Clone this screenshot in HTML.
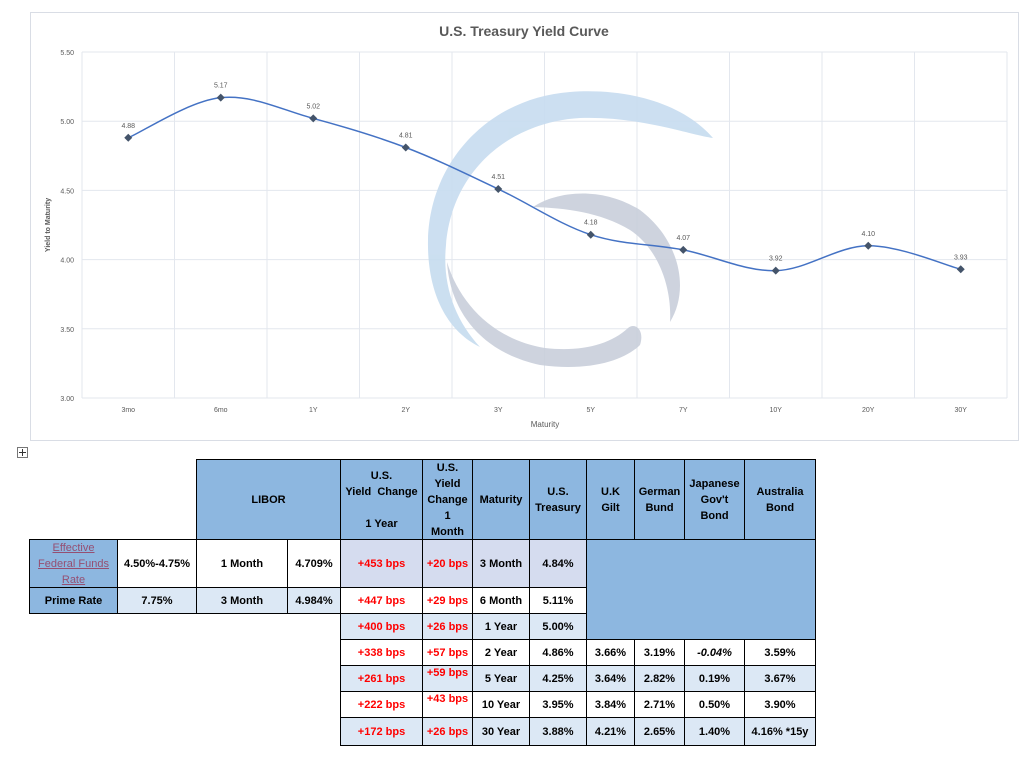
<!DOCTYPE html>
<html><head><meta charset="utf-8">
<style>
body{margin:0;width:1035px;height:758px;background:#fff;font-family:"Liberation Sans",sans-serif;position:relative;overflow:hidden}
#chart{position:absolute;left:0;top:0}
.c{position:absolute;box-sizing:border-box;border:1px solid #000;display:flex;align-items:center;justify-content:center;text-align:center;font-weight:bold;font-size:11px;line-height:16px;color:#000}
.h{background:#8db7e0}
.l{background:#dce8f5}
.m{background:#d5dcef}
.w{background:#fff}
.r{color:#ff0000}
</style></head><body>
<svg id="chart" width="1035" height="450">
<rect x="30.5" y="12.5" width="988" height="428" fill="#fff" stroke="#d9dde5"/>
<text x="524" y="36" text-anchor="middle" font-size="14" font-weight="bold" fill="#595959">U.S. Treasury Yield Curve</text>
<g id="grid"></g>
<g opacity="0.9">
<path d="M713,138 C680,100 620,88 570,92 C490,98 430,160 428,240 C427,290 445,330 480,347 C455,320 442,285 446,245 C452,170 510,122 580,118 C640,116 690,135 713,138 Z" fill="#c6dcef"/>
<path d="M533,207 C555,192 600,185 640,210 C680,240 690,290 670,322 C672,290 660,250 630,230 C600,212 565,208 533,207 Z" fill="#c9cfdb"/>
<path d="M447,262 C450,310 480,352 540,365 C590,372 625,360 640,345 C645,330 635,322 628,328 C610,345 580,352 545,348 C495,340 460,305 447,262 Z" fill="#c9cfdb"/>
</g>
<g id="series"></g>
<text x="0" y="0" transform="translate(50,225) rotate(-90)" text-anchor="middle" font-size="7" font-weight="bold" fill="#595959">Yield to Maturity</text>
<text x="545" y="427" text-anchor="middle" font-size="8" fill="#595959">Maturity</text>
</svg>
<svg width="12" height="12" style="position:absolute;left:17px;top:447px"><rect x="0.5" y="0.5" width="10" height="10" fill="#fff" stroke="#777"/><path d="M5.5 2v7M2 5.5h7" stroke="#333"/></svg>
<div id="tbl"></div>
<script>
const categories=["3mo","6mo","1Y","2Y","3Y","5Y","7Y","10Y","20Y","30Y"];
const yields=[4.88,5.17,5.02,4.81,4.51,4.18,4.07,3.92,4.10,3.93];
const yTicks=[3.00,3.50,4.00,4.50,5.00,5.50];
const NS="http://www.w3.org/2000/svg";
const X0=82,X1=1007,Y0=398,Y1=52,YMIN=3,YMAX=5.5;
const bw=(X1-X0)/categories.length;
function xs(i){return X0+bw*(i+0.5);}
function ys(v){return Y0-(v-YMIN)/(YMAX-YMIN)*(Y0-Y1);}
function mk(t,a,p){const e=document.createElementNS(NS,t);for(const k in a)e.setAttribute(k,a[k]);p.appendChild(e);return e;}
const grid=document.getElementById('grid'),ser=document.getElementById('series');
yTicks.forEach(v=>{
 const l=mk('line',{x1:X0,x2:X1,y1:ys(v),y2:ys(v),stroke:'#e3e7ee'},grid);
 
 
 const t=mk('text',{x:X0-8,y:ys(v)+3,'text-anchor':'end','font-size':'7',fill:'#595959'},grid);
 t.textContent=v.toFixed(2);
 
 
});
for(let i=0;i<=categories.length;i++){
 const l=mk('line',{x1:X0+bw*i,x2:X0+bw*i,y1:Y1,y2:Y0,stroke:'#e3e7ee'},grid);
 
 
}
categories.forEach((c,i)=>{
 const t=mk('text',{x:xs(i),y:Y0+14,'text-anchor':'middle','font-size':'7',fill:'#595959'},grid);
 t.textContent=c;
 
 
});
const pts=yields.map((v,i)=>[xs(i),ys(v)]);
let d=`M${pts[0][0]},${pts[0][1]}`;
for(let i=0;i<pts.length-1;i++){
 const p0=pts[Math.max(0,i-1)],p1=pts[i],p2=pts[i+1],p3=pts[Math.min(pts.length-1,i+2)];
 const k=0.17;
 d+=` C${p1[0]+(p2[0]-p0[0])*k},${p1[1]+(p2[1]-p0[1])*k} ${p2[0]-(p3[0]-p1[0])*k},${p2[1]-(p3[1]-p1[1])*k} ${p2[0]},${p2[1]}`;
}
const line=mk('path',{d:d,fill:'none',stroke:'#4472c4','stroke-width':'1.5'},ser);


pts.forEach((p,i)=>{
 const m=mk('path',{d:`M${p[0]},${p[1]-4}L${p[0]+4},${p[1]}L${p[0]},${p[1]+4}L${p[0]-4},${p[1]}Z`,fill:'#44546a'},ser);
 
 
 const t=mk('text',{x:p[0],y:p[1]-10,'text-anchor':'middle','font-size':'7',fill:'#595959'},ser);
 t.textContent=yields[i].toFixed(2);
 
 
});
// table
const cx={A:29,B:117,C:196,D:287,E:340,F:422,G:472,H:529,I:586,J:634,K:684,L:744,M:815};
const ry=[459,539,587,613,639,665,691,717,745];
const order="ABCDEFGHIJKLM";
const tbl=document.getElementById('tbl');
function cell(c1,c2,r1,r2,cls,html,name){
 const e=document.createElement('div');
 e.className='c '+cls;
 const x1=cx[c1],x2=cx[order[order.indexOf(c2)+1]];
 e.style.left=x1+'px';e.style.top=ry[r1]+'px';
 e.style.width=(x2-x1+1)+'px';e.style.height=(ry[r2+1]-ry[r1]+1)+'px';
 e.innerHTML=html;
 
 
 tbl.appendChild(e);
}
cell('C','D',0,0,'h','LIBOR','libor-header');
cell('E','E',0,0,'h','U.S.<br>Yield&nbsp; Change<br><br>1 Year','yield-change-1y-header');
cell('F','F',0,0,'h','U.S.<br>Yield<br>Change<br>1<br>Month','yield-change-1m-header');
cell('G','G',0,0,'h','Maturity','maturity-header');
cell('H','H',0,0,'h','U.S.<br>Treasury','us-treasury-header');
cell('I','I',0,0,'h','U.K<br>Gilt','uk-gilt-header');
cell('J','J',0,0,'h','German<br>Bund','german-bund-header');
cell('K','K',0,0,'h','Japanese<br>Gov\'t<br>Bond','japanese-bond-header');
cell('L','L',0,0,'h','Australia<br>Bond','australia-bond-header');
cell('A','A',1,1,'h','<span style="color:#954f72;text-decoration:underline;font-weight:normal">Effective<br>Federal Funds<br>Rate</span>','fed-funds-label');
cell('B','B',1,1,'w','4.50%-4.75%','fed-funds-value');
cell('C','C',1,1,'w','1 Month','libor-1m-label');
cell('D','D',1,1,'w','4.709%','libor-1m-value');
cell('A','A',2,2,'h','Prime Rate','prime-rate-label');
cell('B','B',2,2,'l','7.75%','prime-rate-value');
cell('C','C',2,2,'l','3 Month','libor-3m-label');
cell('D','D',2,2,'l','4.984%','libor-3m-value');
cell('I','L',1,3,'h','','blank-block');
const rows=[
 ['+453 bps','+20 bps','3 Month','4.84%',null,'m'],
 ['+447 bps','+29 bps','6 Month','5.11%',null,'w'],
 ['+400 bps','+26 bps','1 Year','5.00%',null,'l'],
 ['+338 bps','+57 bps','2 Year','4.86%',['3.66%','3.19%','<i>-0.04%</i>','3.59%'],'w'],
 ['+261 bps','+59 bps','5 Year','4.25%',['3.64%','2.82%','0.19%','3.67%'],'l'],
 ['+222 bps','+43 bps','10 Year','3.95%',['3.84%','2.71%','0.50%','3.90%'],'w'],
 ['+172 bps','+26 bps','30 Year','3.88%',['4.21%','2.65%','1.40%','4.16% *15y'],'l']
];
rows.forEach((r,i)=>{
 const ri=i+1,b=r[5];
 const top=(i>=4&&i<=5)?'<span style="position:relative;top:-6px">'+r[1]+'</span>':r[1];
 cell('E','E',ri,ri,b+' r',r[0],'yield-change-1y');
 cell('F','F',ri,ri,b+' r',top,'yield-change-1m');
 cell('G','G',ri,ri,b,r[2],'maturity');
 cell('H','H',ri,ri,b,r[3],'us-treasury-yield');
 if(r[4]){['I','J','K','L'].forEach((c,j)=>cell(c,c,ri,ri,b,r[4][j],'intl-bond-yield'));}
});
</script>
</body></html>
